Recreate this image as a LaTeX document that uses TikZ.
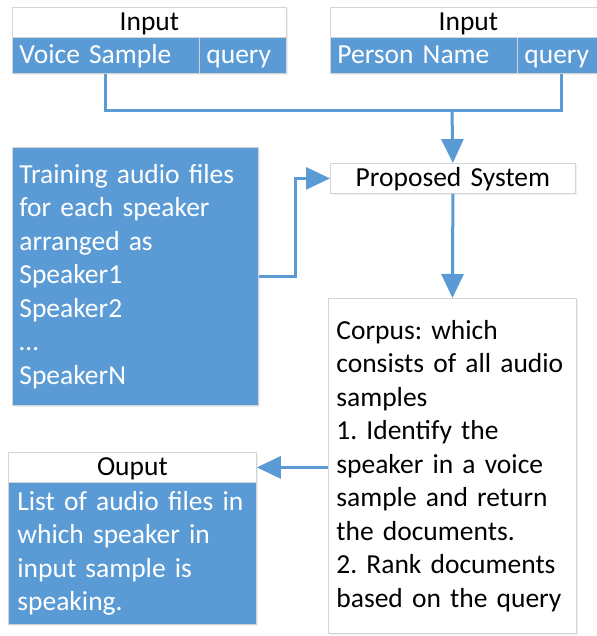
\documentclass[tikz,border=0pt]{standalone}
\usepackage{fontspec}
\setmainfont{Carlito}
\frenchspacing
\usetikzlibrary{arrows.meta,shadows}
\definecolor{myblue}{HTML}{5B9BD5}
\definecolor{bord}{HTML}{D4D4D4}
\tikzset{
  cell/.style={draw=bord, line width=0.8pt, anchor=north west, inner ysep=0pt, inner xsep=7pt,
    font=\fontsize{27.5}{33.5}\selectfont, drop shadow={opacity=0.12, shadow xshift=1.5pt, shadow yshift=-2pt}},
  oneline/.style={text height=22pt, text depth=5pt},
  titlecell/.style={cell, oneline, fill=white, text=black, align=center},
  bluecell/.style={cell, fill=myblue, text=white, align=left},
  blueone/.style={bluecell, oneline},
  whitecell/.style={cell, fill=white, text=black, align=left},
  conn/.style={draw=myblue, line width=3pt},
  arr/.style={conn, -{Triangle[length=24pt,width=22pt]}}
}
\begin{document}
\begin{tikzpicture}[x=1pt,y=-1pt]
\useasboundingbox (0,0) rectangle (596,636);
% Input 1
\node[titlecell, minimum width=274, minimum height=30, text width=260] (in1) at (12,7) {Input};
\node[blueone, minimum height=36, text width=173] (vs) at (12,37) {Voice Sample};
\node[blueone, minimum height=36, text width=73] (q1) at (199,37) {query};
% Input 2
\node[titlecell, minimum width=276, minimum height=30, text width=262] (in2) at (330,7) {Input};
\node[blueone, minimum height=36, text width=173] (pn) at (330,37) {Person Name};
\node[blueone, minimum height=36, text width=75] (q2) at (517,37) {query};
% Proposed system
\node[titlecell, minimum height=30, text width=231] (ps) at (330,163) {Proposed System};
% Training
\node[bluecell, minimum height=258, text width=232] (tr) at (12,147) {Training audio files\\for each speaker\\arranged as\\Speaker1\\Speaker2\\\dots\\SpeakerN};
% Corpus
\node[whitecell, inner xsep=8pt, minimum height=335, text width=232] (co) at (328,298) {Corpus: which\\consists of all audio\\samples\\1. Identify the\\speaker in a voice\\sample and return\\the documents.\\2. Rank documents\\based on the query};
% Output
\node[titlecell, minimum height=30, text width=234] (ot) at (8,452) {Ouput};
\node[bluecell, inner xsep=9pt, minimum height=142, text width=230] (ol) at (8,482) {List of audio files in\\which speaker in\\input sample is\\speaking.};
% connectors
\coordinate (j) at (452,111);
\draw[conn] (vs.south) |- (j) -| (q2.south);
\draw[arr] (j) -- (ps.north);
\draw[arr] (tr.east) -- ++(37,0) |- (ps.west);
\draw[arr] (ps.south) -- (co.north);
\draw[arr] (co.west |- ot.east) -- (ot.east);
\end{tikzpicture}
\end{document}
